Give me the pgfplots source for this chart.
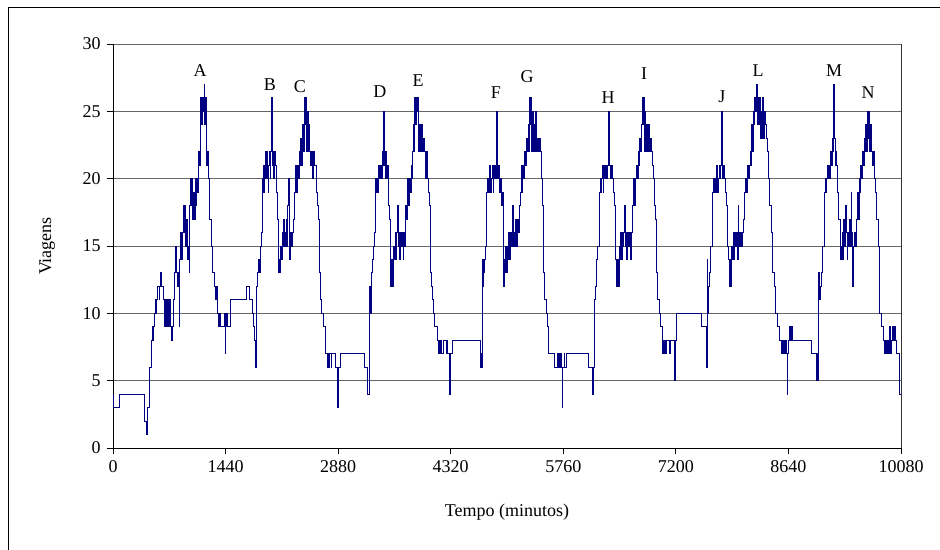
\documentclass[border=0pt]{standalone}
\usepackage{fontspec}
\setmainfont{Liberation Serif}
\usepackage{pgfplots}
\pgfplotsset{compat=1.18}
\definecolor{linha}{HTML}{000080}

\begin{document}
\fontsize{9pt}{11pt}\selectfont
\begin{tikzpicture}
\useasboundingbox (0,0) rectangle (470pt,-275pt);
\draw[black, line width=0.5pt] (4pt,-276pt) -- (4pt,-4pt) -- (471pt,-4pt);
\begin{axis}[
  at={(56.5pt,-224pt)}, anchor=south west,
  scale only axis, width=394pt, height=202pt,
  xmin=0, xmax=10080, ymin=0, ymax=30,
  xtick={0,1440,...,10080}, ytick={0,5,...,30},
  scaled x ticks=false,
  separate axis lines, axis x line*=bottom, axis y line*=left,
  axis line style={-, black, line width=0.5pt},
  tick align=outside, major tick length=3pt,
  tick style={black, line width=0.5pt},
  ymajorgrids, grid style={black!60, line width=0.5pt},
  /pgf/number format/assume math mode=true,
  /pgf/number format/1000 sep={},
  clip=false,
]
\addplot[const plot, color=linha, line width=0.5pt] coordinates {
(0,4) (8,3) (85,4) (405,2) (425,1) (440,3) (468,6) (488,8) (500,9) (510,8)
(520,9) (532,10) (545,11) (552,10) (560,11) (575,12) (590,11) (600,12) (612,13) (625,12)
(645,11) (655,9) (662,11) (672,9) (680,11) (690,9) (700,11) (710,9) (720,11) (735,9)
(745,8) (760,9) (775,11) (790,13) (800,15) (808,13) (820,12) (835,13) (848,9) (856,14)
(866,16) (876,14) (886,16) (898,18) (910,16) (920,18) (930,15) (945,17) (958,14) (970,15)
(976,13) (984,18) (994,20) (1002,18) (1010,20) (1020,17) (1030,19) (1040,17) (1050,20) (1060,18)
(1070,20) (1080,19) (1092,22) (1104,21) (1114,24) (1124,26) (1134,24) (1144,26) (1154,25) (1166,27)
(1174,24) (1182,26) (1192,23) (1202,21) (1212,22) (1222,20) (1240,17) (1260,15) (1272,13) (1292,12)
(1310,11) (1322,12) (1340,10) (1355,9) (1368,10) (1380,9) (1420,10) (1433,7) (1440,9) (1455,10)
(1470,9) (1497,11) (1714,12) (1752,11) (1782,10) (1795,9) (1806,8) (1818,6) (1830,8) (1838,12)
(1850,13) (1862,14) (1875,13) (1889,15) (1900,16)
(1912,20) (1922,21) (1930,19) (1938,21) (1946,20) (1955,22) (1963,20) (1972,22) (1980,21) (1987,19)
(1995,21) (2003,22) (2012,20) (2020,22) (2028,26) (2036,21) (2045,22) (2055,20) (2065,22) (2075,21)
(2085,19) (2100,17) (2112,16) (2122,13) (2130,14) (2138,13) (2146,15) (2155,14) (2163,16) (2172,15)
(2180,17) (2190,15) (2198,16) (2206,15) (2216,17) (2226,15) (2236,18) (2246,20) (2252,16) (2262,14)
(2270,16) (2280,15) (2292,16) (2304,17) (2316,18) (2326,19) (2336,21) (2346,19) (2356,21) (2368,20)
(2380,22) (2392,21) (2402,23) (2414,21) (2426,24) (2436,22) (2446,25) (2454,26) (2462,24) (2470,26)
(2478,22) (2488,25) (2498,22) (2508,24) (2518,22) (2530,21) (2542,22) (2556,20) (2568,22) (2580,21)
(2597,20) (2605,19) (2618,18) (2627,17) (2640,13) (2652,11) (2668,10) (2690,9) (2712,7) (2740,6)
(2752,7) (2760,6) (2772,7) (2790,6) (2800,7) (2845,6) (2874,3) (2882,6) (2904,7) (3211,6)
(3255,4) (3275,6)
(3280,12) (3292,10) (3302,12) (3312,13) (3322,14) (3334,15) (3346,16) (3352,19) (3362,20) (3372,19)
(3382,20) (3392,19) (3402,21) (3412,20) (3422,21) (3432,20) (3442,22) (3452,21) (3462,25) (3470,21)
(3480,20) (3490,22) (3500,20) (3512,21) (3522,18) (3535,17) (3545,14) (3555,12) (3568,14) (3578,12)
(3590,15) (3600,14) (3610,16) (3620,14) (3630,16) (3640,18) (3650,15) (3660,16) (3670,14) (3680,16)
(3690,15) (3700,16) (3712,14) (3722,16) (3735,15) (3745,18) (3755,17) (3768,20) (3778,18) (3790,20)
(3800,19) (3812,21) (3822,20) (3833,22) (3843,24) (3853,22) (3863,26) (3873,24) (3883,26) (3893,25)
(3903,26) (3913,22) (3923,24) (3933,22) (3943,24) (3955,22) (3968,23) (3980,22) (3995,20) (4010,22)
(4025,20) (4038,19) (4050,18) (4064,13) (4072,12) (4082,11) (4095,10) (4110,9) (4150,8) (4162,7)
(4172,8) (4180,7) (4192,8) (4200,7) (4225,8) (4262,7) (4268,8) (4277,7) (4305,4) (4316,7)
(4345,8) (4703,6) (4712,7) (4720,6) (4730,14) (4736,12) (4745,13) (4756,14) (4770,15)
(4782,19) (4792,20) (4802,19) (4812,20) (4822,21) (4832,19) (4842,20) (4852,21) (4862,19) (4872,20)
(4882,21) (4892,20) (4904,25) (4912,21) (4922,20) (4932,21) (4942,19) (4955,20) (4968,18) (4980,19)
(4993,12) (5005,14) (5015,13) (5025,15) (5035,13) (5045,15) (5055,14) (5065,16) (5075,14) (5085,16)
(5095,15) (5105,16) (5115,18) (5123,15) (5133,16) (5143,15) (5153,17) (5163,15) (5175,17) (5188,16)
(5200,18) (5212,19) (5222,21) (5232,19) (5244,21) (5256,20) (5268,22) (5280,21) (5290,23) (5300,22)
(5312,24) (5322,22) (5334,26) (5342,24) (5350,26) (5358,22) (5368,25) (5378,22) (5388,24) (5398,22)
(5410,25) (5420,22) (5432,23) (5445,22) (5460,23) (5472,22) (5483,20) (5492,18) (5505,13) (5520,11)
(5540,10) (5556,9) (5575,7) (5650,6) (5680,7) (5690,6) (5700,7) (5712,6) (5722,7) (5735,6)
(5748,3) (5756,6) (5770,7) (5780,6) (5795,7) (6080,6) (6136,4) (6150,6)
(6156,11) (6168,12) (6182,14) (6200,15) (6220,19) (6230,20) (6240,19) (6250,20) (6260,21) (6270,19)
(6280,20) (6290,21) (6300,20) (6310,21) (6320,20) (6330,21) (6342,25) (6350,21) (6362,20) (6372,21)
(6385,20) (6400,19) (6415,18) (6428,14) (6440,12) (6452,14) (6462,12) (6474,15) (6484,14) (6494,16)
(6504,14) (6514,16) (6524,15) (6534,16) (6546,18) (6554,15) (6564,16) (6574,14) (6584,16) (6596,15)
(6606,16) (6618,14) (6630,16) (6645,18) (6656,20) (6668,18) (6680,20) (6692,21) (6704,20) (6716,22)
(6728,21) (6740,23) (6750,22) (6762,24) (6772,26) (6780,24) (6788,26) (6796,22) (6806,25) (6816,22)
(6826,24) (6836,22) (6848,24) (6858,22) (6870,23) (6882,22) (6896,21) (6908,20) (6922,18) (6940,17)
(6952,13) (6968,11) (6985,10) (7005,9) (7025,7) (7040,8) (7050,7) (7062,8) (7072,7) (7085,8)
(7120,7) (7130,8) (7185,5) (7195,8) (7210,10) (7530,9) (7586,6)
(7600,14) (7606,10) (7616,12) (7630,13) (7645,15) (7665,19) (7675,20) (7685,19) (7695,20) (7705,19)
(7715,20) (7725,21) (7735,19) (7745,20) (7755,21) (7765,20) (7775,21) (7784,25) (7792,21) (7802,20)
(7812,21) (7825,20) (7838,19) (7850,18) (7862,15) (7874,14) (7884,12) (7894,14) (7904,12) (7914,15)
(7924,14) (7934,16) (7944,14) (7954,16) (7964,15) (7974,16) (7986,14) (7996,18) (8004,15) (8014,16)
(8024,15) (8034,16) (8046,15) (8058,16) (8070,17) (8082,19) (8094,20) (8104,19) (8116,21) (8128,20)
(8140,21) (8150,22) (8160,21) (8170,24) (8180,22) (8190,25) (8200,24) (8210,26) (8220,25) (8232,27)
(8240,24) (8250,26) (8260,24) (8270,26) (8280,23) (8290,25) (8300,23) (8310,26) (8320,23) (8332,25)
(8345,24) (8360,23) (8375,22) (8385,20) (8398,18) (8418,16) (8440,13) (8460,12) (8480,10) (8500,9)
(8522,8) (8545,7) (8558,8) (8568,7) (8580,8) (8592,7) (8605,8) (8615,7) (8624,4) (8632,7)
(8645,8) (8655,9) (8665,8) (8675,9) (8690,8) (8937,7) (9000,5) (9010,7) (9018,5)
(9027,13) (9036,11) (9048,12) (9062,13) (9080,15) (9098,19) (9108,20) (9118,19) (9128,20) (9138,21)
(9148,20) (9158,21) (9170,20) (9180,22) (9190,21) (9200,23) (9210,22) (9220,27) (9228,23) (9238,21)
(9248,22) (9258,21) (9270,19) (9285,17) (9300,14) (9310,15) (9320,14) (9330,16) (9340,14) (9350,17)
(9360,15) (9370,18) (9380,16) (9390,14) (9400,16) (9410,15) (9422,17) (9432,15) (9444,19) (9452,16)
(9460,12) (9470,15) (9482,16) (9494,15) (9505,17) (9520,19) (9532,17) (9545,20) (9556,19) (9566,21)
(9576,20) (9588,22) (9598,21) (9608,23) (9618,22) (9628,24) (9638,22) (9650,25) (9660,23) (9670,25)
(9680,22) (9690,24) (9700,22) (9712,21) (9725,22) (9740,20) (9752,19) (9770,17) (9790,15) (9810,10)
(9830,9) (9850,8) (9870,7) (9885,8) (9895,7) (9910,8) (9920,7) (9935,9) (9945,7) (9960,8)
(9975,9) (9985,8) (9995,9) (10005,8) (10020,7) (10055,4) (10080,4)
};
\draw[black!80, line width=0.5pt] (rel axis cs:1,0) -- (rel axis cs:1,1);
\node at (axis cs:1113,28.0) {A};
\node at (axis cs:2008,27.0) {B};
\node at (axis cs:2392,26.8) {C};
\node at (axis cs:3415,26.5) {D};
\node at (axis cs:3902,27.3) {E};
\node at (axis cs:4899,26.4) {F};
\node at (axis cs:5296,27.6) {G};
\node at (axis cs:6332,26.0) {H};
\node at (axis cs:6793,27.8) {I};
\node at (axis cs:7790,26.1) {J};
\node at (axis cs:8251,28.0) {L};
\node at (axis cs:9223,28.0) {M};
\node at (axis cs:9658,26.4) {N};
\end{axis}
\node[rotate=90] at (23.5pt,-123pt) {Viagens};
\node at (253.5pt,-256pt) {Tempo (minutos)};
\end{tikzpicture}
\end{document}
